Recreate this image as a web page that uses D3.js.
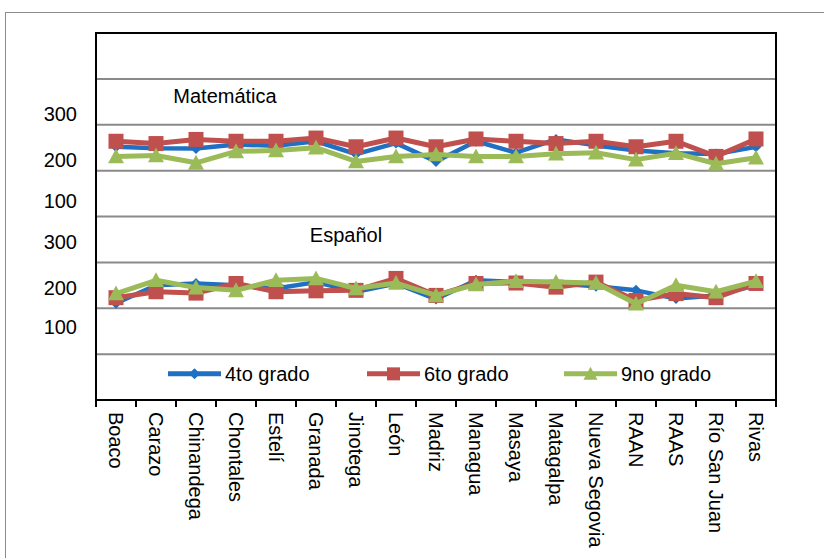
<!DOCTYPE html>
<html><head><meta charset="utf-8">
<script src="https://cdn.jsdelivr.net/npm/d3@7"></script>
<style>body{margin:0;background:#fff;}svg{display:block;font-family:"Liberation Sans",Arial,sans-serif;}</style>
</head><body>
<svg id="c" width="824" height="558"></svg>
<script>
const categories = ["Boaco","Carazo","Chinandega","Chontales","Estelí","Granada","Jinotega","León","Madriz","Managua","Masaya","Matagalpa","Nueva Segovia","RAAN","RAAS","Río San Juan","Rivas"];
const seriesNames = ["4to grado","6to grado","9no grado"];
// Matemática
const mat4 = [252,249,248,257,254,264,236,260,220,264,239,268,255,244,238,236,252];
const mat6 = [264,259,268,264,264,271,252,271,252,269,264,259,264,252,264,231,269];
const mat9 = [231,233,217,242,244,250,220,231,235,231,231,237,239,224,238,215,228];
// Español
const esp4 = [211,250,254,250,243,257,236,254,220,261,257,254,248,239,221,228,250];
const esp6 = [223,236,233,254,236,238,239,265,228,254,255,246,257,217,232,223,254];
const esp9 = [232,261,245,239,261,265,243,255,228,252,259,257,255,210,250,236,259];
const panelTitles = ["Matemática","Español"];
const panelOffsets = [300, 0];
const yTickLabels = ["300","200","100"];
const yTickValues = [300,200,100];
const gridValues = [0,100,200,300,400,500,600,700,800];

const colors = ["#1f6fc2","#c0504d","#9bbb59"];
const svg = d3.select("#c");
const L = 96, R = 776, T = 33, B = 400;

// outer border
svg.append("rect").attr("x",5.5).attr("y",12.5).attr("width",900).attr("height",700)
  .attr("fill","none").attr("stroke","#8c8c8c").attr("stroke-width",1);

const x = d3.scaleBand().domain(categories).range([L,R]).padding(0);
const y = d3.scaleLinear().domain([0,800]).range([B,T]);

// gridlines
svg.append("g").selectAll("line").data(gridValues.filter(v=>v>0 && v<800)).join("line")
  .attr("x1",L).attr("x2",R).attr("y1",d=>y(d)).attr("y2",d=>y(d))
  .attr("stroke","#8a8a8a").attr("stroke-width",2);

// frame
svg.append("rect").attr("x",L).attr("y",T).attr("width",R-L).attr("height",B-T)
  .attr("fill","none").attr("stroke","#000").attr("stroke-width",2);

// x axis ticks
const xTicks = d3.range(categories.length+1).map(i=>L + i*x.bandwidth());
svg.append("g").selectAll("line").data(xTicks).join("line")
  .attr("x1",d=>d).attr("x2",d=>d).attr("y1",B).attr("y2",B+7)
  .attr("stroke","#000").attr("stroke-width",2);

// category labels
svg.append("g").selectAll("text").data(categories).join("text")
  .attr("transform",d=>`translate(${x(d)+x.bandwidth()/2},${B+12}) rotate(90)`)
  .attr("dy","0.35em").attr("font-size",20).attr("fill","#000").text(d=>d);

// y labels per panel (free-floating text boxes, slightly above their gridlines)
const labelShift = [[-4,-4,-9],[-13,-13,-20]];
panelOffsets.forEach((off,p)=>{
  svg.append("g").selectAll("text").data(yTickValues).join("text")
    .attr("x",77).attr("y",(d,i)=>y(d+off)+labelShift[p][i])
    .attr("text-anchor","end").attr("font-size",20).attr("fill","#000")
    .text((d,i)=>yTickLabels[i]);
});

// panel titles
svg.append("text").attr("x",225).attr("y",y(648)).attr("text-anchor","middle")
  .attr("font-size",20).attr("fill","#000").text(panelTitles[0]);
svg.append("text").attr("x",346).attr("y",y(344)).attr("text-anchor","middle")
  .attr("font-size",20).attr("fill","#000").text(panelTitles[1]);

function marker(g, s, cx, cy, big){
  if(s===0){
    const r = 5.5;
    g.append("path").attr("d",`M${cx},${cy-r}L${cx+r},${cy}L${cx},${cy+r}L${cx-r},${cy}Z`).attr("fill",colors[0]);
  } else if(s===1){
    const h = big?7.5:6.5;
    g.append("rect").attr("x",cx-h).attr("y",cy-h).attr("width",2*h).attr("height",2*h).attr("fill",colors[1]);
  } else {
    const h = big?8:7;
    g.append("path").attr("d",`M${cx},${cy-h}L${cx+h},${cy+h*0.85}L${cx-h},${cy+h*0.85}Z`).attr("fill",colors[2]);
  }
}

const panels = [[mat4,mat6,mat9],[esp4,esp6,esp9]];
panels.forEach((series,p)=>{
  const off = panelOffsets[p];
  series.forEach((vals,s)=>{
    const g = svg.append("g");
    const line = d3.line().x((d,i)=>x(categories[i])+x.bandwidth()/2).y(d=>y(d+off));
    g.append("path").attr("d",line(vals)).attr("fill","none").attr("stroke",colors[s])
      .attr("stroke-width",s===0?4.5:5).attr("stroke-linejoin","round");
    vals.forEach((v,i)=>marker(g,s,x(categories[i])+x.bandwidth()/2,y(v+off),true));
  });
});

// legend
const legY = y(57);
const legX = [168,367,564];
seriesNames.forEach((n,s)=>{
  const g = svg.append("g");
  g.append("line").attr("x1",legX[s]).attr("x2",legX[s]+53).attr("y1",legY).attr("y2",legY)
    .attr("stroke",colors[s]).attr("stroke-width",5);
  marker(g,s,legX[s]+26.5,legY,false);
  g.append("text").attr("x",legX[s]+57).attr("y",legY).attr("dy","0.35em")
    .attr("font-size",20).attr("fill","#000").text(n);
});
</script>
</body></html>
